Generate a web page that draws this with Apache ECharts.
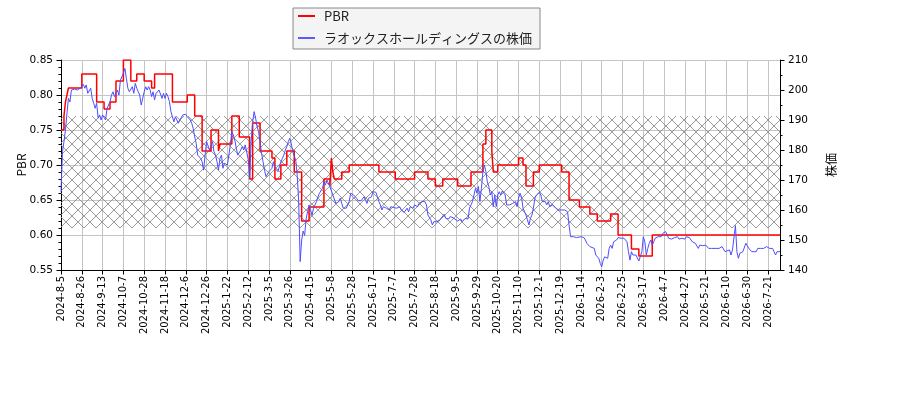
<!DOCTYPE html>
<html>
<head>
<meta charset="utf-8">
<script src="https://cdn.jsdelivr.net/npm/echarts@6/dist/echarts.min.js"></script>
<style>
html,body{margin:0;padding:0;background:#fff;}
#chart{width:900px;height:400px;}
</style>
</head>
<body>
<div id="chart"></div>
<script>
// ---- data ----
const dayCount = 485;
const tickStep = 14;
const tickLabels = ['2024-8-5','2024-8-26','2024-9-13','2024-10-7','2024-10-28','2024-11-18','2024-12-6','2024-12-26','2025-1-22','2025-2-12','2025-3-5','2025-3-26','2025-4-15','2025-5-8','2025-5-28','2025-6-17','2025-7-7','2025-7-28','2025-8-18','2025-9-5','2025-9-29','2025-10-20','2025-11-10','2025-12-1','2025-12-19','2026-1-14','2026-2-3','2026-2-25','2026-3-17','2026-4-7','2026-4-27','2026-5-21','2026-6-10','2026-6-30','2026-7-21'];
const seriesNames = ['PBR', 'ラオックスホールディングスの株価'];
// PBR: [trading day index, value] at each change
const pbrSteps = [[0,0.75],[2,0.77],[3,0.79],[4,0.80],[5,0.81],[14,0.83],[24,0.79],[29,0.78],[33,0.79],[37,0.82],[42,0.85],[47,0.82],[51,0.83],[56,0.82],[61,0.81],[63,0.83],[75,0.79],[85,0.80],[90,0.77],[95,0.72],[101,0.75],[106,0.72],[107,0.73],[115,0.77],[120,0.74],[127,0.68],[129,0.76],[134,0.72],[142,0.71],[144,0.68],[148,0.70],[152,0.72],[157,0.69],[162,0.62],[167,0.64],[177,0.68],[181,0.67],[182,0.71],[183,0.69],[184,0.68],[189,0.69],[194,0.70],[214,0.69],[225,0.68],[238,0.69],[247,0.68],[252,0.67],[257,0.68],[267,0.67],[276,0.69],[284,0.73],[286,0.75],[290,0.72],[291,0.69],[294,0.70],[308,0.71],[311,0.70],[313,0.67],[318,0.69],[322,0.70],[337,0.69],[342,0.65],[349,0.64],[356,0.63],[361,0.62],[370,0.63],[375,0.60],[384,0.58],[389,0.57],[398,0.60],[484,0.60]];
// Share price: [trading day index, price]
const priceData = [[0,166.1],[1,179.5],[2,182.8],[3,186.7],[4,192.2],[5,197.2],[6,196],[7,200.0],[8,200.6],[9,200.3],[11,200.0],[12,200.3],[13,200.6],[14,201.1],[15,201.9],[16,200.6],[17,201.7],[18,198.9],[20,200.6],[21,197.2],[22,195.6],[23,193.9],[24,195.6],[25,190.6],[26,191.7],[27,190.0],[28,191.7],[30,190.0],[31,193.9],[32,195.0],[33,196.1],[34,198.3],[35,199.4],[36,197.8],[38,200.0],[39,198.3],[40,203.3],[41,203.9],[42,205.6],[43,207.2],[44,203.9],[45,200.6],[46,199.4],[48,201.1],[49,198.9],[50,202.2],[51,200.6],[52,199.4],[53,198.3],[54,195.0],[56,199.4],[57,201.1],[58,200.0],[59,201.1],[60,200.0],[61,197.8],[62,199.4],[63,196.7],[64,198.9],[66,200.0],[67,199.4],[68,197.2],[69,198.9],[70,197.2],[71,198.9],[72,197.8],[73,196.1],[74,192.8],[76,189.4],[77,191.1],[78,190.0],[79,188.9],[80,190.0],[81,189.4],[82,191.7],[84,191.9],[85,191.1],[86,191.1],[87,190.0],[88,188.9],[89,187.2],[90,184.4],[91,182.2],[92,178.3],[94,177.2],[95,176.1],[96,173.3],[97,178.3],[98,182.8],[99,182.2],[100,180.0],[102,182.8],[103,179.4],[104,178.3],[105,176.1],[106,173.3],[107,177.2],[108,178.3],[109,173.9],[110,175.6],[112,175.0],[113,178.3],[114,181.7],[115,186.1],[116,185.0],[117,183.3],
[118,180.6],[119,178.3],[121,180.0],[122,181.1],[123,180.0],[124,181.7],[125,182.2],[126,177],[127,170.6],[128,182.8],[129,189.4],[130,192.8],[131,190.6],[132,187.8],[133,186.1],[134,182.8],[135,178.9],[136,176.1],[137,173.3],[138,171.1],[140,172.8],[141,173.3],[142,173.9],[143,176.1],[144,173.9],[145,174.4],[146,172.8],[148,176.1],[149,177.2],[150,178.3],[151,180.0],[152,181.1],[153,182.8],[154,183.9],[155,182.2],[156,179.4],[157,178],[158,176.7],[159,171.7],[160,163],[161,142.8],[162,150],[163,153],[164,151.5],[165,157],[166,159.5],[167,161.7],[168,161.1],[169,158.3],[170,160.6],[171,161.1],[172,162.8],[173,164.4],[174,165.6],[176,167.2],[177,169.4],[178,168.3],[179,170.0],[180,169.4],[181,167.8],[182,168.3],[183,165.0],[185,162.2],[186,161.7],[187,162.8],[188,163.9],[189,162.2],[190,160.6],[191,160.0],[192,160.6],[194,162.8],[195,165.6],[196,166.1],[197,165.0],[198,164.4],[199,163.9],[200,163.1],[201,163.0],[202,163.1],[204,164.4],[205,163.9],[206,162.2],[207,163.9],[208,164.4],[209,164.4],[210,166.1],[212,165.9],[213,164.4],[214,162.8],[215,161.7],[216,160.0],[217,161.1],[218,161.7],[219,160.6],[221,160.0],[222,161.1],[223,160.8],[224,160.8],[225,161.1],[226,160.6],[227,160.6],[228,161.1],[229,160.0],[231,159.2],[232,159.4],[233,160.6],[234,159.4],[235,161.1],[236,161.7],[237,160.6],[238,161.7],
[240,161.1],[241,162.2],[242,161.7],[243,162.8],[244,163.0],[245,162.8],[246,161.7],[247,158.3],[249,156.7],[250,155.0],[251,156.1],[252,155.6],[253,156.1],[254,156.3],[255,156.7],[256,157.2],[258,158.6],[259,157.2],[260,157.4],[261,157.0],[262,157.8],[263,157.2],[264,157.4],[265,157.0],[267,156.3],[268,156.1],[269,157.0],[270,156.1],[271,156.7],[272,157.2],[273,157.8],[274,157.0],[275,160.6],[277,162.8],[278,165.0],[279,167.2],[280,165.6],[281,167.8],[282,162.8],[283,167.2],[284,172.8],[285,175.0],[286,172.8],[287,169.4],[288,167.8],[289,165.0],[290,166.1],[291,161.1],[292,165.0],[293,161.1],[294,165.0],[295,166.1],[296,165.0],[297,166.3],[298,166.7],[299,165.0],[300,161.7],[301,161.1],[302,161.7],[304,162.2],[305,162.8],[306,162.8],[307,161.1],[308,163.9],[309,165.6],[310,164.4],[311,160.6],[313,158.3],[314,156.7],[315,155.0],[316,157.2],[317,158.3],[318,160.6],[319,163.9],[320,165.0],[322,165.9],[323,165.0],[324,162.8],[325,162.2],[326,162.8],[327,161.7],[328,162.8],[329,161.1],[331,161.7],[332,161.1],[333,160.6],[334,160.0],[335,160.0],[337,160.0],[339,160.0],[341,159.4],[342,155.0],[343,151.1],[344,150.6],[345,151.1],[346,150.6],[347,150.8],[348,150.3],[350,151.1],[351,150.6],[352,150.8],[353,150.0],[354,148.9],[355,149.4],[356,147.8],[357,148.3],[359,147.2],[360,145.0],[361,144.4],[362,143.9],[363,142.2],[364,141.1],[365,143.3],[366,144.4],
[367,145.0],[368,143.9],[369,147.2],[370,148.3],[371,147.2],[372,149.4],[373,148.9],[374,150.0],[375,150.8],[377,150.6],[378,150.8],[379,150.6],[380,150.8],[381,149.4],[382,146.1],[383,143.3],[384,146.1],[385,145.0],[386,144.4],[387,145.0],[388,144.4],[389,143.0],[390,143.0],[391,146.1],[392,151.1],[393,149.4],[394,145.0],[395,147.2],[396,148.9],[397,150.0],[398,148.3],[399,149.4],[400,150.6],[401,150.0],[402,151.1],[404,151.1],[405,152.2],[406,151.7],[407,152.8],[408,151.7],[409,150.6],[410,151.1],[411,150.3],[413,150.8],[414,150.3],[415,151.1],[416,150.3],[417,150.8],[418,150.6],[419,151.1],[420,150.3],[421,151.1],[423,150.8],[424,150.6],[425,149.4],[426,149.7],[427,148.9],[428,148.9],[429,147.2],[430,148.3],[432,148.1],[433,148.6],[434,148.3],[435,147.8],[436,147.2],[437,147.8],[438,147.2],[439,147.8],[441,147.2],[442,147.8],[443,147.2],[444,147.8],[445,147.8],[446,147.2],[447,146.1],[448,145.6],[450,146.7],[451,145.0],[452,146.7],[453,146.1],[454,154.8],[455,146.1],[456,143.9],[457,145.6],[459,146.1],[460,146.1],[461,148.9],[462,148.9],[463,147.2],[464,146.7],[465,146.1],[466,146.1],[468,146.1],[469,147.2],[470,147.8],[471,147.2],[472,147.8],[473,147.2],[474,147.8],[475,147.8],[477,147.2],[478,147.8],[479,147.2],[480,146.1],[481,145.0],[482,146.1],[483,145.6],[484,146.1]];
const bandLow = 0.61, bandHigh = 0.77;
const pbrTicks = {min: 0.55, max: 0.85, interval: 0.05};
const priceTicks = {min: 140, max: 210, interval: 10};

// ---- chart ----
const categories = [];
for (let i = 0; i < dayCount; i++) categories.push(String(i));
const isTick = (i) => i % tickStep === 0;

function hatchImage() {
  const s = 12;
  const c = document.createElement('canvas');
  c.width = s; c.height = s;
  const g = c.getContext('2d');
  g.strokeStyle = '#8e8e8e';
  g.lineWidth = 0.9;
  g.beginPath();
  g.moveTo(0, 0); g.lineTo(s, s);
  g.moveTo(0, s); g.lineTo(s, 0);
  g.stroke();
  return c;
}

const latin = "'DejaVu Sans', 'Noto Sans CJK JP', sans-serif";
const jp = "'Noto Sans CJK JP', 'DejaVu Sans', sans-serif";
const gridColor = '#c4c4c4';

const chart = echarts.init(document.getElementById('chart'), null, {renderer: 'canvas'});
chart.setOption({
  animation: false,
  backgroundColor: '#ffffff',
  grid: {left: 61, right: 120, top: 60, bottom: 130, containLabel: false},
  legend: {
    orient: 'vertical',
    left: 293, top: 8,
    padding: [1, 8, 4, 5],
    itemGap: 8,
    itemWidth: 17,
    itemHeight: 2,
    icon: 'rect',
    backgroundColor: '#f4f4f4',
    borderColor: '#888888',
    borderWidth: 1,
    borderRadius: 0,
    data: seriesNames,
    textStyle: {fontFamily: jp, fontSize: 13, lineHeight: 14, color: '#222', padding: [0, 0, 0, 4]}
  },
  xAxis: {
    type: 'category',
    data: categories,
    boundaryGap: false,
    axisLine: {lineStyle: {color: '#000', width: 1}},
    axisTick: {show: true, interval: (i) => isTick(i), length: 4.5, lineStyle: {color: '#000'}},
    axisLabel: {
      interval: (i) => isTick(i),
      rotate: 90,
      margin: 6,
      fontFamily: latin,
      fontSize: 10,
      color: '#000',
      formatter: (v, i) => tickLabels[i / tickStep] || ''
    },
    splitLine: {show: true, interval: (i) => isTick(i), lineStyle: {color: gridColor, width: 1}}
  },
  yAxis: [
    {
      type: 'value',
      position: 'left',
      min: pbrTicks.min, max: pbrTicks.max, interval: pbrTicks.interval,
      name: 'PBR',
      nameLocation: 'middle',
      nameRotate: 90,
      nameGap: 34,
      nameMoveOverlap: false,
      nameTextStyle: {fontFamily: jp, fontSize: 12, color: '#000'},
      axisLine: {show: true, lineStyle: {color: '#000', width: 1}},
      axisTick: {show: true, length: 4.5, lineStyle: {color: '#000'}},
      minorTick: {show: true, splitNumber: 5, length: 2.5, lineStyle: {color: '#000'}},
      axisLabel: {fontFamily: latin, fontSize: 10.5, color: '#000', margin: 8, formatter: (v) => v.toFixed(2)},
      splitLine: {show: true, lineStyle: {color: gridColor, width: 1}}
    },
    {
      type: 'value',
      position: 'right',
      min: priceTicks.min, max: priceTicks.max, interval: priceTicks.interval,
      name: '株価',
      nameLocation: 'middle',
      nameRotate: 90,
      nameGap: 45,
      nameMoveOverlap: false,
      nameTextStyle: {fontFamily: jp, fontSize: 12, color: '#000'},
      axisLine: {show: true, lineStyle: {color: '#000', width: 1}},
      axisTick: {show: true, length: 4.5, lineStyle: {color: '#000'}},
      minorTick: {show: true, splitNumber: 2, length: 2.5, lineStyle: {color: '#000'}},
      axisLabel: {fontFamily: latin, fontSize: 10.5, color: '#000', margin: 8},
      splitLine: {show: false}
    }
  ],
  series: [
    {
      name: 'band',
      type: 'line',
      yAxisIndex: 0,
      data: [],
      z: 1,
      silent: true,
      markArea: {
        silent: true,
        itemStyle: {color: {image: hatchImage(), repeat: 'repeat'}, borderWidth: 0},
        data: [[{yAxis: bandLow}, {yAxis: bandHigh}]]
      }
    },
    {
      name: seriesNames[0],
      type: 'line',
      yAxisIndex: 0,
      data: pbrSteps,
      step: 'end',
      symbol: 'none',
      z: 3,
      lineStyle: {color: '#ff0000', width: 1.5},
      itemStyle: {color: '#ff0000'}
    },
    {
      name: seriesNames[1],
      type: 'line',
      yAxisIndex: 1,
      data: priceData,
      symbol: 'none',
      z: 4,
      lineStyle: {color: '#4d4dff', width: 1},
      itemStyle: {color: '#5a5aff'}
    }
  ]
});
</script>
</body>
</html>
